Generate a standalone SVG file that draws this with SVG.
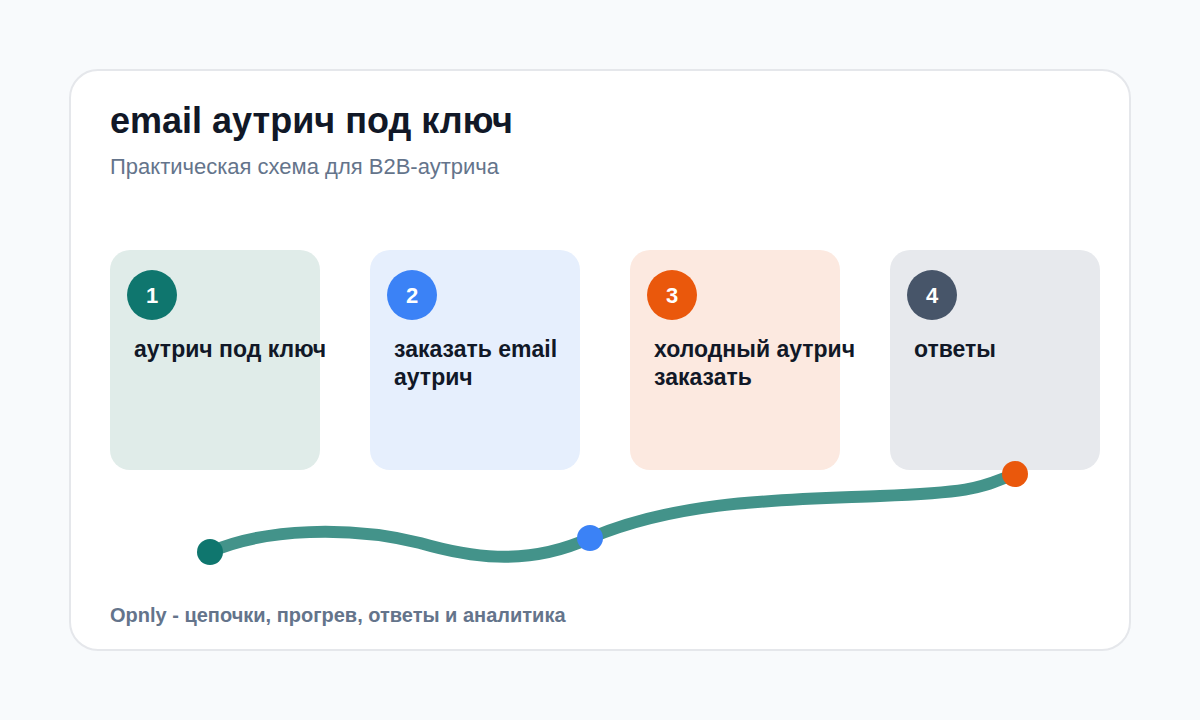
<svg xmlns="http://www.w3.org/2000/svg" width="1200" height="720" viewBox="0 0 1200 720">
<style>
.title{font-family:"Liberation Sans",Arial,sans-serif;font-size:36px;font-weight:700;fill:#111827}
.sub{font-family:"Liberation Sans",Arial,sans-serif;font-size:22px;fill:#64748b}
.lbl{font-family:"Liberation Sans",Arial,sans-serif;font-size:23px;font-weight:700;fill:#111827}
.num{font-family:"Liberation Sans",Arial,sans-serif;font-size:22px;font-weight:700;fill:#ffffff;text-anchor:middle}
.foot{font-family:"Liberation Sans",Arial,sans-serif;font-size:20px;font-weight:700;fill:#64748b}
</style>
<rect width="1200" height="720" fill="#f8fafc"/>
<rect x="70" y="70" width="1060" height="580" rx="28" fill="#ffffff" stroke="#e5e7eb" stroke-width="2"/>
<text class="title" x="110" y="133">email аутрич под ключ</text>
<text class="sub" x="110" y="174">Практическая схема для B2B-аутрича</text>
<g id="node1">
<rect x="110" y="250" width="210" height="220" rx="20" fill="#e0ece9"/>
<circle cx="152" cy="295" r="25" fill="#0f766e"/>
<text class="num" x="152" y="303">1</text>
<text class="lbl" x="134" y="357">аутрич под ключ</text>
</g>
<g id="node2">
<rect x="370" y="250" width="210" height="220" rx="20" fill="#e6effd"/>
<circle cx="412" cy="295" r="25" fill="#3b82f6"/>
<text class="num" x="412" y="303">2</text>
<text class="lbl" x="394" y="357">заказать email</text>
<text class="lbl" x="394" y="385">аутрич</text>
</g>
<g id="node3">
<rect x="630" y="250" width="210" height="220" rx="20" fill="#fce9e0"/>
<circle cx="672" cy="295" r="25" fill="#ea580c"/>
<text class="num" x="672" y="303">3</text>
<text class="lbl" x="654" y="357">холодный аутрич</text>
<text class="lbl" x="654" y="385">заказать</text>
</g>
<g id="node4">
<rect x="890" y="250" width="210" height="220" rx="20" fill="#e7e9ed"/>
<circle cx="932" cy="295" r="25" fill="#475569"/>
<text class="num" x="932" y="303">4</text>
<text class="lbl" x="914" y="357">ответы</text>
</g>
<g id="connectors">
<path d="M210 552 C 265 528, 350 526, 420 543 C 465 556, 525 568, 590 538 C 680 500, 780 500, 880 496 S 980 487, 1015 474" fill="none" stroke="#43938a" stroke-width="12" stroke-linecap="round"/>
<circle cx="210" cy="552" r="13" fill="#0f766e"/>
<circle cx="590" cy="538" r="13" fill="#3b82f6"/>
<circle cx="1015" cy="474" r="13" fill="#ea580c"/>
</g>
<text class="foot" x="110" y="622">Opnly - цепочки, прогрев, ответы и аналитика</text>
</svg>
